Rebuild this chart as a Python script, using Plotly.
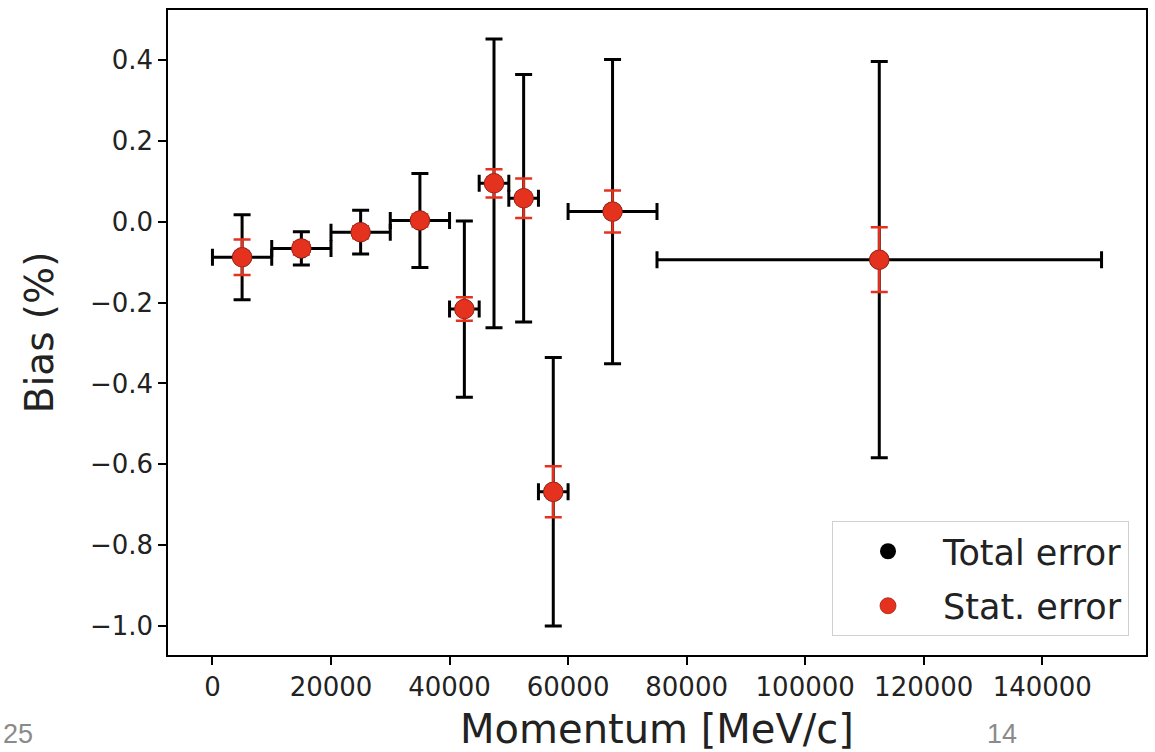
import plotly.graph_objects as go

# ---- data ----
momentum = [5000, 15000, 25000, 35000, 42500, 47500, 52500, 57500, 67500, 112500]
bin_half = [5000, 5000, 5000, 5000, 2500, 2500, 2500, 2500, 7500, 37500]
bias = [-0.088, -0.066, -0.026, 0.003, -0.216, 0.095, 0.058, -0.668, 0.025, -0.094]
total_err = [0.105, 0.041, 0.054, 0.116, 0.218, 0.357, 0.306, 0.332, 0.376, 0.490]
stat_err = [0.044, 0.015, 0.015, 0.015, 0.029, 0.035, 0.049, 0.063, 0.052, 0.080]

x_ticks = [0, 20000, 40000, 60000, 80000, 100000, 120000, 140000]
y_ticks = [-1.0, -0.8, -0.6, -0.4, -0.2, 0.0, 0.2, 0.4]

RED = "#e5321f"
FONT = "DejaVu Sans"

# plot-area pixel geometry
W, H = 1155, 752
L, R, T, B = 168, 1146, 10, 655

fig = go.Figure()

fig.add_trace(go.Scatter(
    x=momentum, y=bias, mode="markers", name="Total error", legendgroup="tot",
    marker=dict(color="black", size=20),
    error_y=dict(type="data", array=total_err, visible=True,
                 color="black", thickness=3, width=8.5),
    error_x=dict(type="data", array=bin_half, visible=True,
                 color="black", thickness=3, width=8.5),
))

fig.add_trace(go.Scatter(
    x=momentum, y=bias, mode="markers", name="Stat. error", legendgroup="stat",
    marker=dict(color=RED, size=19.5, line=dict(color="#a52416", width=0.8)),
    error_y=dict(type="data", array=stat_err, visible=True,
                 color=RED, thickness=2.5, width=8.5),
))

def px_x(p):
    return (p - L) / (R - L)

def px_y(p):
    return (B - p) / (B - T)

fig.add_annotation(text="25", x=px_x(18), y=px_y(734), xref="paper", yref="paper",
                   xanchor="center", yanchor="middle",
                   showarrow=False, font=dict(family="Liberation Sans", size=27, color="#8a8a8a"))
fig.add_annotation(text="14", x=px_x(1002), y=px_y(734), xref="paper", yref="paper",
                   xanchor="center", yanchor="middle",
                   showarrow=False, font=dict(family="Liberation Sans", size=27, color="#8a8a8a"))

axis_common = dict(
    showline=True, mirror=True, linecolor="black", linewidth=1.5,
    ticks="outside", ticklen=8, tickwidth=1.5, tickcolor="black",
    showgrid=False, zeroline=False,
    tickfont=dict(family=FONT, size=26, color="#222222"),
)

fig.update_layout(
    width=W, height=H,
    margin=dict(l=L, r=W - R, t=T, b=H - B),
    paper_bgcolor="white", plot_bgcolor="white",
    template="none",
    font=dict(family=FONT, color="#222222"),
    xaxis=dict(
        range=[-7500, 157500], tickvals=x_ticks,
        ticktext=[str(v) for v in x_ticks],
        title=dict(text="Momentum [MeV/c]", font=dict(family=FONT, size=40, color="#222222"), standoff=34),
        **axis_common,
    ),
    yaxis=dict(
        range=[-1.0715, 0.5235], tickvals=y_ticks, tickformat=".1f",
        title=dict(text="Bias (%)", font=dict(family=FONT, size=39, color="#222222"), standoff=24),
        **axis_common,
    ),
    legend=dict(
        x=px_x(1129), y=px_y(636), xanchor="right", yanchor="bottom",
        bgcolor="white", bordercolor="#d0d0d0", borderwidth=1,
        font=dict(family=FONT, size=35, color="#222222"),
        itemwidth=100, traceorder="grouped", tracegroupgap=6,
    ),
    showlegend=True,
)

fig.write_html("out.html")
